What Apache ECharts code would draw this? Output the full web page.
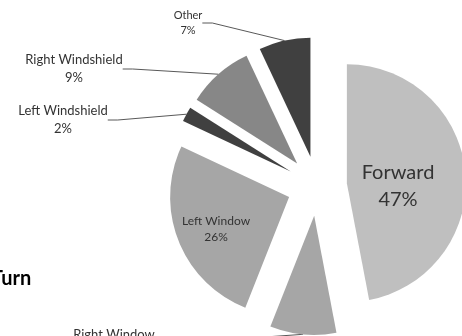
<!DOCTYPE html>
<html>
<head>
<meta charset="utf-8">
<script src="https://cdn.jsdelivr.net/npm/echarts@6/dist/echarts.min.js"></script>
<style>
  html, body { margin: 0; padding: 0; background: #ffffff; }
  #chart { width: 462px; height: 336px; }
</style>
</head>
<body>
<div id="chart"></div>
<script>
// Glance direction shares, clockwise from 12 o'clock
const categories = ['Forward', 'Right Window', 'Left Window', 'Left Windshield', 'Right Windshield', 'Other'];
const shares = [47, 9, 26, 2, 9, 7];
const sliceColors = ['#bfbfbf', '#a6a6a6', '#a6a6a6', '#404040', '#878787', '#404040'];
const insideLabels = ['Forward', 'Left Window'];

// Where each label block sits (centre of the text block, px) and its font size
const labelSpots = {
  'Forward': { x: 398, y: 186, size: 20 },
  'Right Window': { x: 114, y: 344, size: 13 },
  'Left Window': { x: 216, y: 229, size: 12 },
  'Left Windshield': { x: 63, y: 120, size: 13 },
  'Right Windshield': { x: 74, y: 69, size: 13 },
  'Other': { x: 188, y: 23, size: 11 }
};

const FONT = 'Lato, "Open Sans", sans-serif';
const PIE_CENTER = [317, 186];
const PIE_RADIUS = 119;
const EXPLODE = 30;

const chart = echarts.init(document.getElementById('chart'), null, { renderer: 'canvas' });

const total = shares.reduce((a, b) => a + b, 0);

// One pie layer per slice: the layer shows only its own slice, pushed out along its bisector
let cumulative = 0;
const series = categories.map((name, k) => {
  const mid = (cumulative + shares[k] / 2) / total * 2 * Math.PI; // clockwise from top
  cumulative += shares[k];
  const cx = PIE_CENTER[0] + EXPLODE * Math.sin(mid);
  const cy = PIE_CENTER[1] - EXPLODE * Math.cos(mid);
  const inside = insideLabels.indexOf(name) >= 0;
  const spot = labelSpots[name];
  return {
    type: 'pie',
    name: name,
    center: [cx, cy],
    radius: PIE_RADIUS,
    startAngle: 90,
    clockwise: true,
    percentPrecision: 0,
    silent: true,
    avoidLabelOverlap: false,
    data: categories.map((n, i) => {
      const own = i === k;
      return {
        name: n,
        value: shares[i],
        itemStyle: { color: own ? sliceColors[i] : 'rgba(0,0,0,0)' },
        label: {
          show: own,
          position: inside ? 'inside' : 'outside',
          fontSize: spot.size,
          lineHeight: Math.round(spot.size * 1.35)
        },
        labelLine: { show: own && !inside }
      };
    }),
    itemStyle: { borderWidth: 0 },
    label: {
      formatter: '{b}\n{d}%',
      color: '#333333',
      fontFamily: FONT,
      align: 'center'
    },
    labelLine: {
      length: 10,
      length2: 10,
      lineStyle: { color: '#595959', width: 1 }
    },
    labelLayout: function (params) {
      if (params.dataIndex !== k) return {};
      return { x: spot.x, y: spot.y, align: 'center', verticalAlign: 'middle' };
    }
  };
});

chart.setOption({
  animation: false,
  backgroundColor: '#ffffff',
  graphic: [{
    type: 'text',
    x: -9,
    y: 269,
    style: { text: 'Turn', font: 'bold 20px ' + FONT, fill: '#000000' }
  }],
  series: series
});
</script>
</body>
</html>
